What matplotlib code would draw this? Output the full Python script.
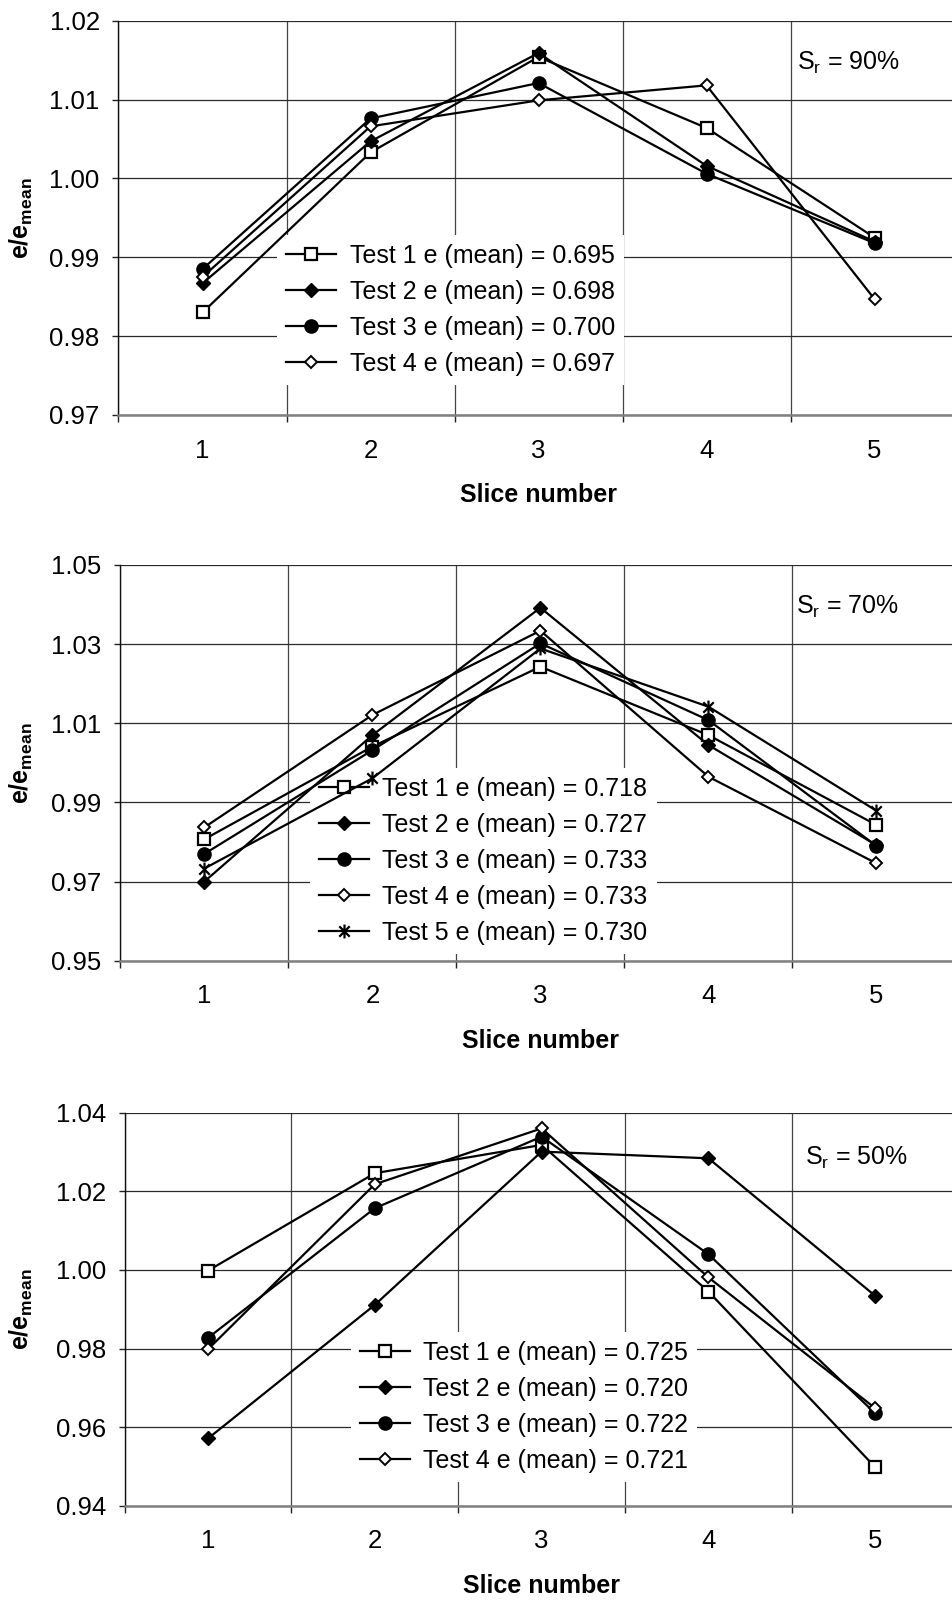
import matplotlib
matplotlib.use("Agg")
import matplotlib.pyplot as plt
from matplotlib.path import Path
from matplotlib.ticker import FixedLocator

plt.rcParams['font.family'] = ['Liberation Sans', 'DejaVu Sans']
plt.rcParams['mathtext.fontset'] = 'custom'
plt.rcParams['mathtext.rm'] = 'Liberation Sans'
plt.rcParams['mathtext.bf'] = 'Liberation Sans:bold'
plt.rcParams['mathtext.it'] = 'Liberation Sans:italic'

slices = [1, 2, 3, 4, 5]

# Panel 1: Sr = 90%
p1_labels = ["Test 1 e (mean) = 0.695", "Test 2 e (mean) = 0.698",
             "Test 3 e (mean) = 0.700", "Test 4 e (mean) = 0.697"]
p1_test1 = [0.9830, 1.0033, 1.0154, 1.0064, 0.9925]
p1_test2 = [0.9867, 1.0047, 1.0159, 1.0016, 0.9920]
p1_test3 = [0.9885, 1.0076, 1.0121, 1.0006, 0.9918]
p1_test4 = [0.9875, 1.0066, 1.0099, 1.0118, 0.9847]
p1_yticks = [0.97, 0.98, 0.99, 1.00, 1.01, 1.02]

# Panel 2: Sr = 70%
p2_labels = ["Test 1 e (mean) = 0.718", "Test 2 e (mean) = 0.727",
             "Test 3 e (mean) = 0.733", "Test 4 e (mean) = 0.733",
             "Test 5 e (mean) = 0.730"]
p2_test1 = [0.9807, 1.0041, 1.0243, 1.0070, 0.9843]
p2_test2 = [0.9700, 1.0070, 1.0392, 1.0045, 0.9792]
p2_test3 = [0.9770, 1.0032, 1.0302, 1.0108, 0.9790]
p2_test4 = [0.9837, 1.0121, 1.0334, 0.9965, 0.9746]
p2_test5 = [0.9733, 0.9961, 1.0289, 1.0142, 0.9879]
p2_yticks = [0.95, 0.97, 0.99, 1.01, 1.03, 1.05]

# Panel 3: Sr = 50%
p3_labels = ["Test 1 e (mean) = 0.725", "Test 2 e (mean) = 0.720",
             "Test 3 e (mean) = 0.722", "Test 4 e (mean) = 0.721"]
p3_test1 = [0.9998, 1.0246, 1.0318, 0.9945, 0.9498]
p3_test2 = [0.9571, 0.9911, 1.0301, 1.0284, 0.9934]
p3_test3 = [0.9827, 1.0157, 1.0339, 1.0040, 0.9635]
p3_test4 = [0.9798, 1.0218, 1.0360, 0.9981, 0.9648]
p3_yticks = [0.94, 0.96, 0.98, 1.00, 1.02, 1.04]

sr_labels = [r"S$_\mathregular{r}$ = 90%", r"S$_\mathregular{r}$ = 70%", r"S$_\mathregular{r}$ = 50%"]

W, H = 953, 1600
fig = plt.figure(figsize=(W / 100, H / 100), dpi=100)

star = Path([(0, -1), (0, 1), (-0.75, -0.75), (0.75, 0.75), (-0.75, 0.75), (0.75, -0.75)],
            [Path.MOVETO, Path.LINETO] * 3)

styles = [
    dict(marker='s', ms=8.5, mfc='white', mec='black', mew=1.6),
    dict(marker='D', ms=7, mfc='black', mec='black', mew=1.0),
    dict(marker='o', ms=9.5, mfc='black', mec='black', mew=1.0),
    dict(marker='D', ms=6, mfc='white', mec='black', mew=1.4),
    dict(marker=star, ms=10, mfc='black', mec='black', mew=1.6),
]

FS_TICK = 18.5
FS_LEG = 18
FS_LAB = 18

panels = [
    dict(box=(118.5, 20.7, 958.5, 415), yticks=p1_yticks,
         series=[p1_test1, p1_test2, p1_test3, p1_test4], labels=p1_labels,
         leg=(277, 235), sr=(797, 63), sr_text=sr_labels[0]),
    dict(box=(120.4, 565, 960.4, 960.7), yticks=p2_yticks,
         series=[p2_test1, p2_test2, p2_test3, p2_test4, p2_test5], labels=p2_labels,
         leg=(310, 768), sr=(796, 607), sr_text=sr_labels[1]),
    dict(box=(124.6, 1112.7, 958.6, 1505.7), yticks=p3_yticks,
         series=[p3_test1, p3_test2, p3_test3, p3_test4], labels=p3_labels,
         leg=(351, 1332), sr=(805, 1158), sr_text=sr_labels[2]),
]

for p in panels:
    x0, y0, x1, y1 = p['box']
    ax = fig.add_axes([x0 / W, 1 - y1 / H, (x1 - x0) / W, (y1 - y0) / H])
    ax.set_xlim(0.5, 5.5)
    ax.set_ylim(p['yticks'][0], p['yticks'][-1])
    ax.set_axisbelow(True)

    for i, ys in enumerate(p['series']):
        ax.plot(slices, ys, color='black', lw=1.6, label=p['labels'][i],
                zorder=3, **styles[i])

    ax.xaxis.set_major_locator(FixedLocator(slices))
    ax.xaxis.set_minor_locator(FixedLocator([0.5, 1.5, 2.5, 3.5, 4.5, 5.5]))
    ax.tick_params(axis='x', which='major', length=0, pad=17, labelsize=FS_TICK)
    ax.tick_params(axis='x', which='minor', length=5, width=1, direction='out', color='#222222')
    ax.yaxis.set_major_locator(FixedLocator(p['yticks']))
    ax.yaxis.set_major_formatter(plt.FormatStrFormatter('%.2f'))
    ax.tick_params(axis='y', which='major', length=4.5, width=1, direction='out',
                   pad=9, labelsize=FS_TICK, color='#222222')

    ax.grid(True, axis='y', which='major', color='#2a2a2a', lw=0.9)
    ax.grid(True, axis='x', which='minor', color='#444444', lw=0.9)

    for s in ['top', 'right']:
        ax.spines[s].set_visible(False)
    ax.spines['left'].set_color('#111111')
    ax.spines['left'].set_linewidth(1.0)
    ax.spines['bottom'].set_color('#808080')
    ax.spines['bottom'].set_linewidth(1.8)

    ax.set_xlabel('Slice number', fontsize=FS_LAB, fontweight='bold', labelpad=15)
    ax.set_ylabel(r'$\mathbf{e/e_{mean}}$', fontsize=FS_LAB)
    ax.yaxis.set_label_coords(-(x0 - 35) / (x1 - x0), 0.5)

    lx, ly = p['leg']
    leg = ax.legend(loc='upper left', bbox_to_anchor=(lx / W, 1 - ly / H),
                    bbox_transform=fig.transFigure, fontsize=FS_LEG, frameon=True,
                    fancybox=False, facecolor='white', edgecolor='none', framealpha=1,
                    borderpad=0.35, labelspacing=0.48, handlelength=2.0,
                    handletextpad=0.55, borderaxespad=0)
    leg.set_zorder(2)

    sx, sy = p['sr']
    fig.text(sx / W, 1 - sy / H, p['sr_text'], fontsize=FS_LEG, ha='left', va='center')

fig.savefig('out.png', dpi=100)
